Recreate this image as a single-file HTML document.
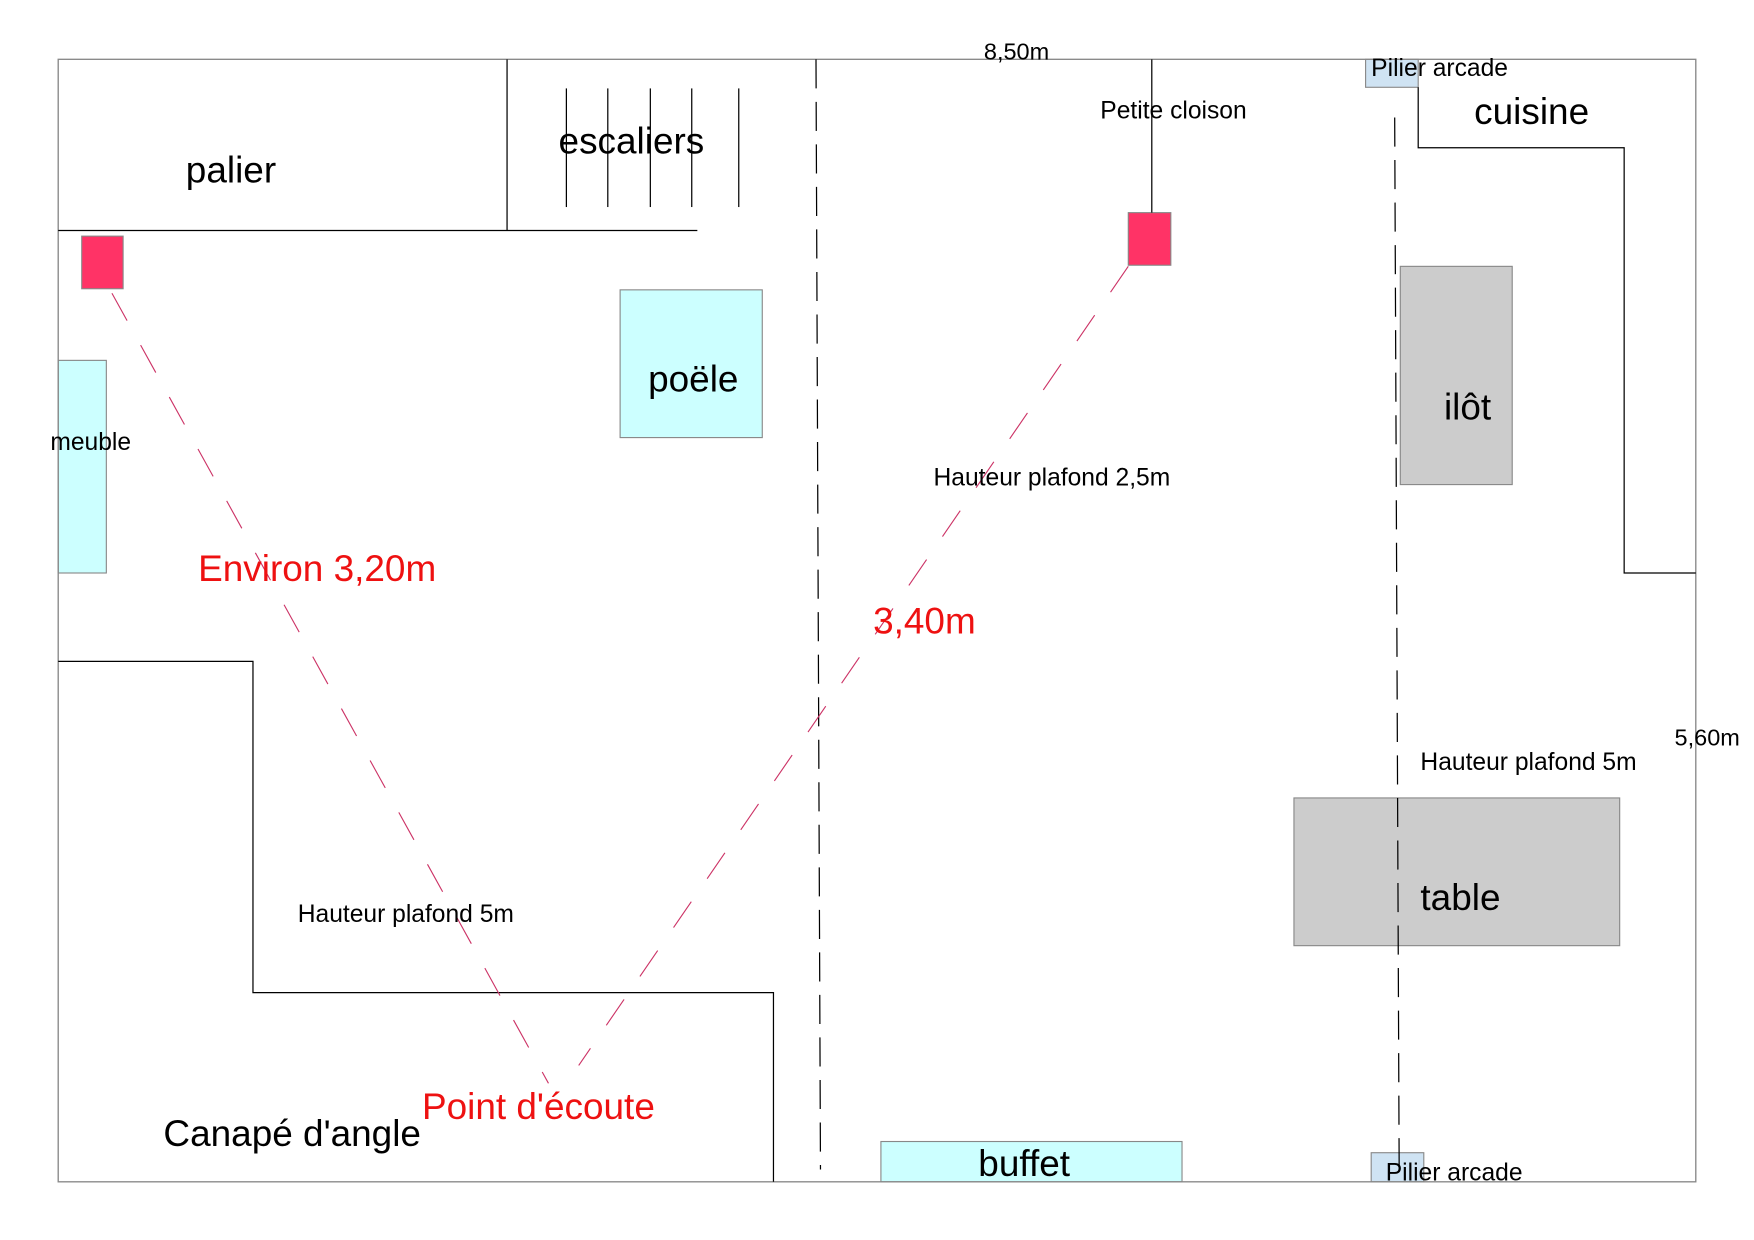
<!DOCTYPE html>
<html><head><meta charset="utf-8"><style>
html,body{margin:0;padding:0;background:#fff;}
svg{display:block;}
text{font-family:"Liberation Sans",sans-serif;}
</style></head><body>
<svg width="1754" height="1240" viewBox="0 0 1567 1108" preserveAspectRatio="none" xmlns="http://www.w3.org/2000/svg">
<rect x="0" y="0" width="1567" height="1108" fill="#fff"/>
<rect x="52" y="322" width="43" height="190" fill="#ccffff" stroke="#888" stroke-width="1"/>
<rect x="554" y="259" width="127" height="132" fill="#ccffff" stroke="#888" stroke-width="1"/>
<rect x="787" y="1020" width="269" height="36" fill="#ccffff" stroke="#888" stroke-width="1"/>
<rect x="1251" y="238" width="100" height="195" fill="#cccccc" stroke="#888" stroke-width="1"/>
<rect x="1156" y="713" width="291" height="132" fill="#cccccc" stroke="#888" stroke-width="1"/>
<rect x="1220" y="53" width="47" height="25" fill="#cfe3f3" stroke="#888" stroke-width="1"/>
<rect x="1225" y="1030" width="47" height="26" fill="#cfe3f3" stroke="#888" stroke-width="1"/>
<rect x="73" y="211" width="37" height="47" fill="#ff3366" stroke="#888" stroke-width="1"/>
<rect x="1008" y="190" width="38" height="47" fill="#ff3366" stroke="#888" stroke-width="1"/>
<rect x="52" y="53" width="1463" height="1003" fill="none" stroke="#888" stroke-width="1.2"/>
<g stroke="#000" stroke-width="1.1" fill="none">
<line x1="453" y1="53" x2="453" y2="206"/>
<line x1="52" y1="206" x2="623" y2="206"/>
<line x1="506" y1="79" x2="506" y2="185"/>
<line x1="543" y1="79" x2="543" y2="185"/>
<line x1="581" y1="79" x2="581" y2="185"/>
<line x1="618" y1="79" x2="618" y2="185"/>
<line x1="660" y1="79" x2="660" y2="185"/>
<line x1="1029" y1="53" x2="1029" y2="190"/>
<polyline points="1267,78 1267,132 1451,132 1451,512 1515,512"/>
<polyline points="52,591 226,591 226,887 691,887 691,1056"/>
<line x1="729" y1="53" x2="733" y2="1045" stroke-dasharray="26,12"/>
<line x1="1246" y1="105" x2="1250" y2="1045" stroke-dasharray="26,12"/>
</g>
<g stroke="#cc3366" stroke-width="1" fill="none" stroke-dasharray="28,25">
<line x1="100" y1="262" x2="490" y2="968"/>
<line x1="1008" y1="238" x2="517" y2="952"/>
</g>
<g fill="#000">
<text x="166" y="163" font-size="33">palier</text>
<text x="499" y="137" font-size="33">escaliers</text>
<text x="579" y="350" font-size="33">poële</text>
<text x="45" y="402" font-size="22">meuble</text>
<text x="879" y="53" font-size="21">8,50m</text>
<text x="983" y="106" font-size="22">Petite cloison</text>
<text x="1225" y="68" font-size="22">Pilier arcade</text>
<text x="1317" y="111" font-size="33">cuisine</text>
<text x="1290" y="375" font-size="33">ilôt</text>
<text x="834" y="434" font-size="22">Hauteur plafond 2,5m</text>
<text x="1496" y="666" font-size="21">5,60m</text>
<text x="1269" y="688" font-size="22">Hauteur plafond 5m</text>
<text x="1269" y="813" font-size="33">table</text>
<text x="266" y="824" font-size="22">Hauteur plafond 5m</text>
<text x="146" y="1024" font-size="33">Canapé d'angle</text>
<text x="874" y="1051" font-size="33">buffet</text>
<text x="1238" y="1055" font-size="22">Pilier arcade</text>
</g>
<g fill="#ee1111" font-size="33">
<text x="177" y="519">Environ 3,20m</text>
<text x="780" y="566">3,40m</text>
<text x="377" y="1000">Point d'écoute</text>
</g>
</svg>
</body></html>
